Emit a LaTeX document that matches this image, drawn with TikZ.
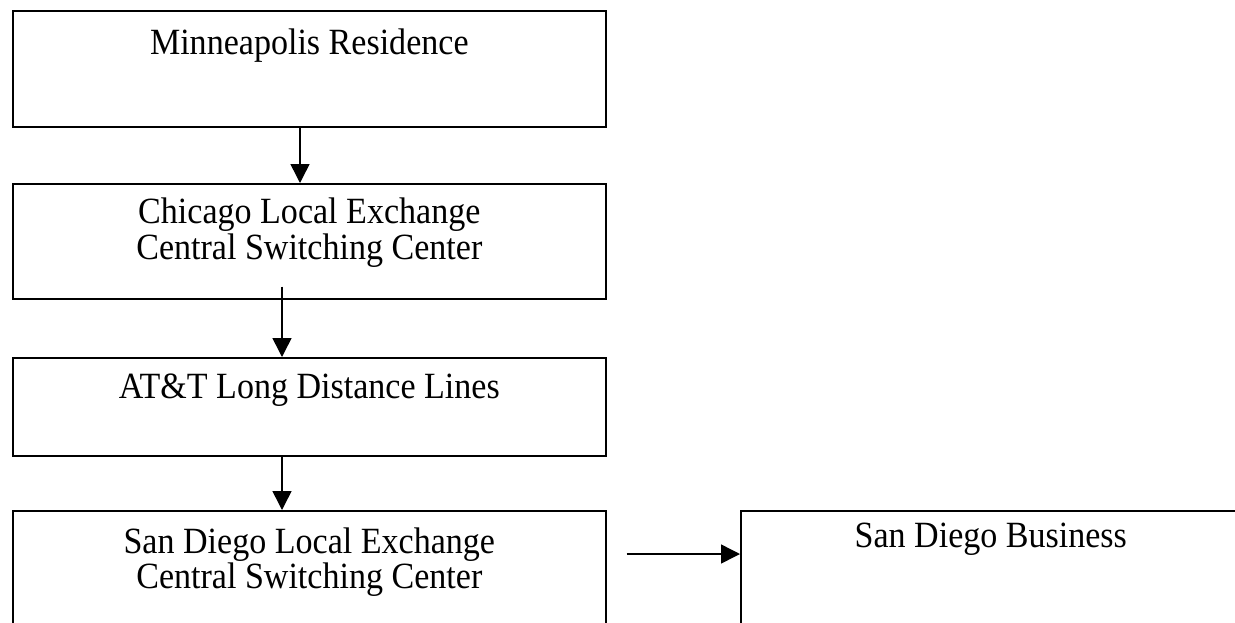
\documentclass[tikz,border=0pt]{standalone}
\usepackage{fontspec}
\setmainfont{Liberation Serif}[FakeStretch=0.92]
\usetikzlibrary{arrows.meta,calc}
\begin{document}
\begin{tikzpicture}[x=1pt,y=-1pt,
  box/.style={draw, line width=1.6pt, rectangle, inner sep=0pt, anchor=north west},
  lbl/.style={font=\fontsize{37}{42}\selectfont, anchor=base, inner sep=0pt},
  arr/.style={-{Triangle[length=19pt,width=19pt]}, line width=1.5pt}]
\useasboundingbox (0,0) rectangle (1235,622);
\clip (0,0) rectangle (1235,622);
% boxes
\node[box, minimum width=593pt, minimum height=116pt] (b1) at (12,10) {};
\node[box, minimum width=593pt, minimum height=115pt] (b2) at (12,183) {};
\node[box, minimum width=593pt, minimum height=98pt] (b3) at (12,357) {};
\node[box, minimum width=593pt, minimum height=150pt] (b4) at (12,510) {};
\node[box, minimum width=500pt, minimum height=150pt] (b5) at (740,510) {};
% labels
\node[lbl] (t1) at ($(b1.north)+(0,44)$) {Minneapolis Residence};
\node[lbl] (t2a) at ($(b2.north)+(0,40)$) {Chicago Local Exchange};
\node[lbl] (t2b) at ($(b2.north)+(0,76)$) {Central Switching Center};
\node[lbl] (t3) at ($(b3.north)+(0,41)$) {AT\&T Long Distance Lines};
\node[lbl] (t4a) at ($(b4.north)+(0,43)$) {San Diego Local Exchange};
\node[lbl] (t4b) at ($(b4.north)+(0,78)$) {Central Switching Center};
\node[lbl] (t5) at ($(b5.north)+(0,37)$) {San Diego Business};
% connectors
\draw[arr] ($(b1.south west)+(288,0)$) -- ($(b2.north west)+(288,0)$);
\draw[arr] ($(b2.south west)+(270,-13)$) -- ($(b3.north west)+(270,0)$);
\draw[arr] ($(b3.south west)+(270,0)$) -- ($(b4.north west)+(270,0)$);
\draw[arr] ($(b4.north east)+(20,44)$) -- ($(b5.north west)+(0,44)$);
\end{tikzpicture}
\end{document}
